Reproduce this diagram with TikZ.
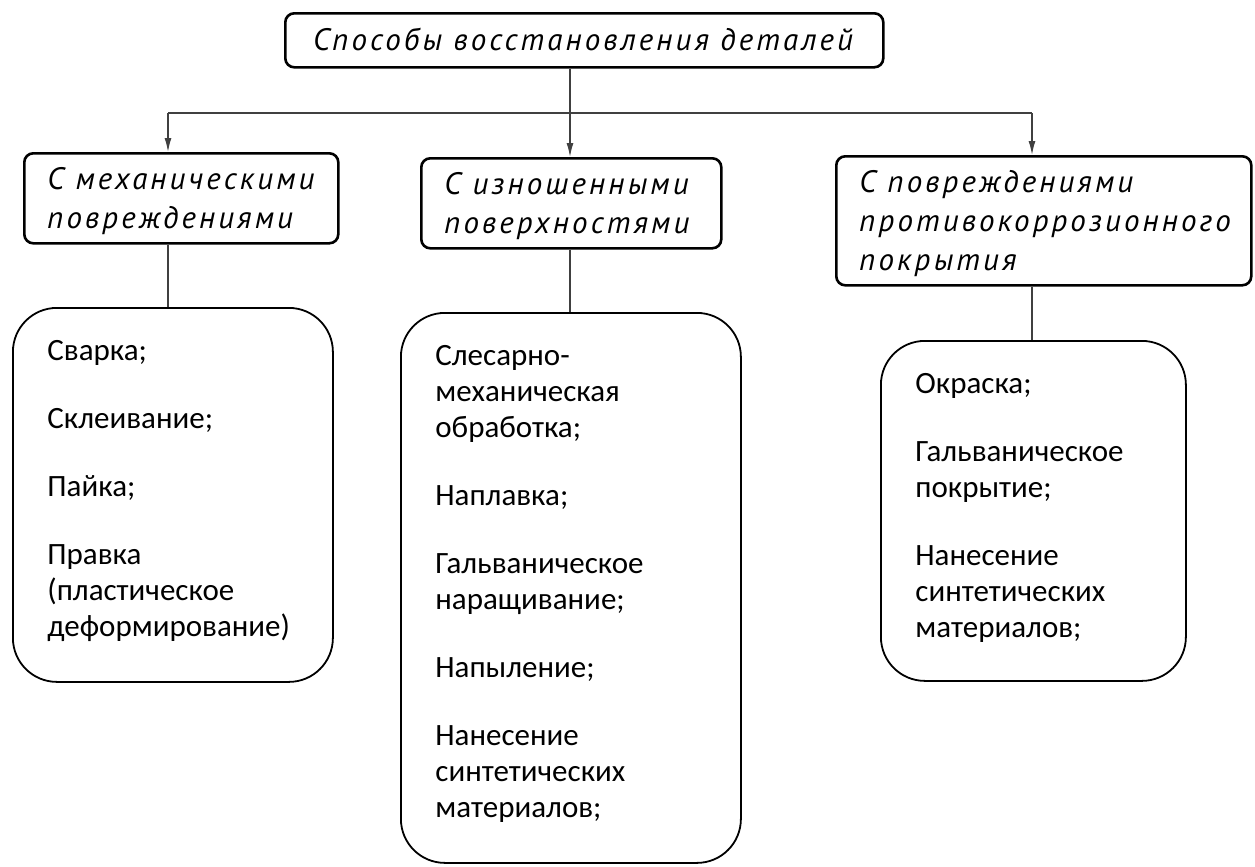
\documentclass[tikz,border=0pt]{standalone}
\usepackage{fontspec}
\setmainfont{Carlito}
\newfontfamily\gost{PT Sans}[LetterSpace=10]
\usetikzlibrary{arrows.meta}
\begin{document}
\begin{tikzpicture}[x=0.5pt,y=-0.5pt,
  ubox/.style={draw, line width=1.3pt, rounded corners=4.5pt, inner sep=0pt, anchor=north west},
  lbox/.style={draw, line width=0.9pt, rounded corners=22pt, inner sep=0pt, anchor=north west},
  utext/.style={anchor=north west, inner sep=0pt, align=left, font=\gost\itshape\fontsize{15.5}{19.5}\selectfont},
  ltext/.style={anchor=north west, inner sep=0pt, align=left, font=\fontsize{15.5}{18}\selectfont},
  conn/.style={draw=black!75, line width=0.7pt},
  arr/.style={conn, -{Latex[length=7pt,width=3.5pt]}}]
\useasboundingbox (0,0) rectangle (1255,867);
% top
\node (T) [ubox, minimum width=299pt, minimum height=27pt] at (284,12) {};
\node (Tt) [font=\gost\itshape\fontsize{15.5}{19.5}\selectfont, inner sep=0pt] at (583,39) {Способы восстановления деталей};
% middle row
\node (L1) [ubox, minimum width=157pt, minimum height=45pt] at (23,152) {};
\node (M1) [ubox, minimum width=150pt, minimum height=45pt] at (420,157) {};
\node (R1) [ubox, minimum width=207.5pt, minimum height=64.5pt] at (835,155) {};
\node (L1t) [utext] at (47,167) {С механическими\\повреждениями};
\node (M1t) [utext] at (444,172) {С изношенными\\поверхностями};
\node (R1t) [utext] at (859,170) {С повреждениями\\противокоррозионного\\покрытия};
% bottom row
\node (B1) [lbox, minimum width=160pt, minimum height=187pt] at (12,307) {};
\node (B2) [lbox, minimum width=170pt, minimum height=275pt] at (400,312) {};
\node (B3) [lbox, minimum width=152.5pt, minimum height=170pt] at (880,340) {};
\node (B1t) [ltext] at (47,340) {Сварка;\\[16pt]Склеивание;\\[16pt]Пайка;\\[16pt]Правка\\(пластическое\\деформирование)};
\node (B2t) [ltext] at (435,345) {Слесарно-\\механическая\\обработка;\\[16pt]Наплавка;\\[16pt]Гальваническое\\наращивание;\\[16pt]Напыление;\\[16pt]Нанесение\\синтетических\\материалов;};
\node (B3t) [ltext] at (915,373) {Окраска;\\[16pt]Гальваническое\\покрытие;\\[16pt]Нанесение\\синтетических\\материалов;};
% connectors
\coordinate (jL) at (168,113);
\coordinate (jM) at (570,113);
\coordinate (jR) at (1032,113);
\draw[conn] (jM |- T.south) -- (jM);
\draw[conn] (jL) -- (jR);
\draw[arr] (jL) -- (jL |- L1.north);
\draw[arr] (jM) -- (jM |- M1.north);
\draw[arr] (jR) -- (jR |- R1.north);
\draw[conn] (jL |- L1.south) -- (jL |- B1.north);
\draw[conn] (jM |- M1.south) -- (jM |- B2.north);
\draw[conn] (jR |- R1.south) -- (jR |- B3.north);
\end{tikzpicture}
\end{document}
